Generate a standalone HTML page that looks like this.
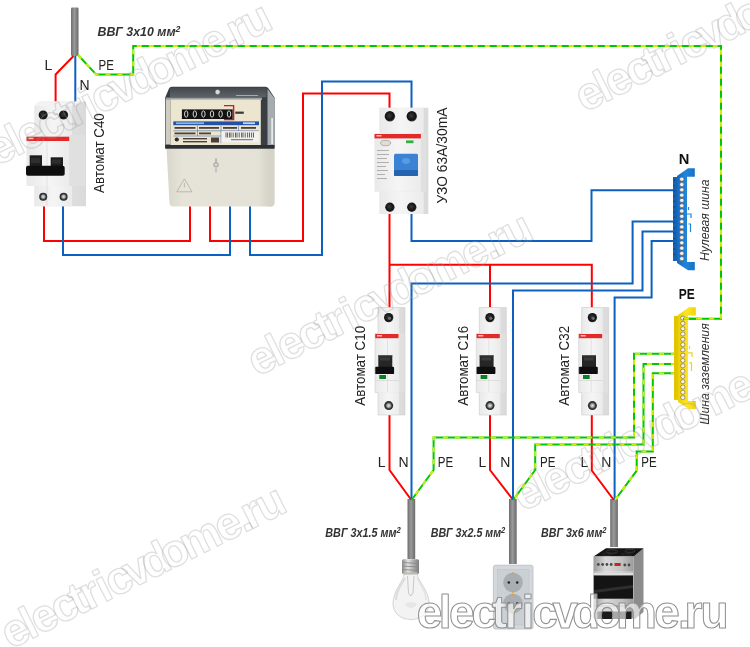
<!DOCTYPE html>
<html><head><meta charset="utf-8">
<style>
html,body{margin:0;padding:0;background:#fff;}
body{width:750px;height:647px;overflow:hidden;}
svg{display:block;font-family:"Liberation Sans",sans-serif;will-change:transform;}
</style></head>
<body>
<svg width="750" height="647" viewBox="0 0 750 647">
<defs>
<linearGradient id="cab" x1="0" x2="1" y1="0" y2="0"><stop offset="0" stop-color="#6d6d6d"/><stop offset="0.45" stop-color="#9a9a9a"/><stop offset="1" stop-color="#6a6a6a"/></linearGradient>
</defs>
<rect width="750" height="647" fill="#fff"/>


<!-- CABLES -->
<g fill="url(#cab)">
<rect x="71" y="7.5" width="7.5" height="48.5" rx="1.2"/>
<rect x="407.5" y="499" width="7.7" height="60"/>
<rect x="509" y="499" width="7.7" height="65"/>
<rect x="610.2" y="499" width="7.7" height="48"/>
</g>

<!-- WIRES -->
<g fill="none" stroke-width="2" stroke-linejoin="miter">
<g stroke="#ff0000">
<path d="M73.5,56 L55.6,74.5 V102"/>
<path d="M44,204 V241 H190 V206"/>
<path d="M210,206 V241 H303 V93.5 H389.5 V109"/>
<path d="M389.5,214 V308 M389.5,264.8 H591.8 V308 M490,264.8 V308"/>
<path d="M389.5,414 V470 L411,499.5"/>
<path d="M490,414 V470 L512.8,499.5"/>
<path d="M591.8,414 V470.5 L613.8,500"/>
</g>
<g stroke="#0b60c0">
<path d="M75.3,56 V102"/>
<path d="M63,206 V255 H230 V206"/>
<path d="M250,206 V255 H322 V81.5 H411.5 V109"/>
<path d="M411.5,214 V241 H591.5 V190.2 H675"/>
<path d="M675,221.6 H632.6 V283.4 H411.5 V500"/>
<path d="M675,231.5 H642.5 V290.5 H513 V500"/>
<path d="M675,241 H651.6 V297.6 H614.6 V500"/>
</g>
<g id="pe">
<g stroke="#00c800">
<path id="pe1" d="M78,55 L96.3,74.6 H133.2 V45.9 H721 V318.8 H684"/>
<path id="pe2" d="M676,353.7 H634 V437.6 H433.6 V470 L411.5,500"/>
<path id="pe3" d="M676,364 H643.5 V444.5 H535.2 V470 L513.2,500"/>
<path id="pe4" d="M676,373.2 H652.8 V451.5 H636.7 V470.7 L615,500"/>
</g>
<g stroke="#c8f000" stroke-dasharray="5 7">
<use href="#pe1"/><use href="#pe2"/><use href="#pe3"/><use href="#pe4"/>
</g>
</g>
</g>

<!-- LABELS -->
<g font-size="14" fill="#222">
<text x="44.5" y="69.6">L</text>
<text x="79.5" y="89.9">N</text>
<text x="98.5" y="69.6" textLength="15.4" lengthAdjust="spacingAndGlyphs">PE</text>
<text x="377.8" y="466.7">L</text>
<text x="398.5" y="466.7">N</text>
<text x="437.8" y="466.7" textLength="15.4" lengthAdjust="spacingAndGlyphs">PE</text>
<text x="478.6" y="466.7">L</text>
<text x="500.3" y="466.7">N</text>
<text x="540" y="466.7" textLength="15.4" lengthAdjust="spacingAndGlyphs">PE</text>
<text x="580.4" y="466.7">L</text>
<text x="601.2" y="466.7">N</text>
<text x="641.2" y="466.7" textLength="15.4" lengthAdjust="spacingAndGlyphs">PE</text>
</g>
<g font-size="14.5" fill="#222">
<text transform="translate(103.8,192.9) rotate(-90)" textLength="79.7" lengthAdjust="spacingAndGlyphs">Автомат С40</text>
<text transform="translate(365.2,405.7) rotate(-90)" textLength="79.8" lengthAdjust="spacingAndGlyphs">Автомат С10</text>
<text transform="translate(468.4,405.7) rotate(-90)" textLength="79.8" lengthAdjust="spacingAndGlyphs">Автомат С16</text>
<text transform="translate(569.4,405.7) rotate(-90)" textLength="79.8" lengthAdjust="spacingAndGlyphs">Автомат С32</text>
<text transform="translate(446.8,203.5) rotate(-90)" textLength="96" lengthAdjust="spacingAndGlyphs">УЗО 63А/30mA</text>
</g>
<g font-size="12" font-weight="bold" font-style="italic" fill="#333">
<text x="97.5" y="35.5" textLength="82.9" lengthAdjust="spacingAndGlyphs">ВВГ 3х10 мм<tspan font-size="8.5" dy="-4">2</tspan></text>
<text x="325.3" y="537.3" textLength="75.5" lengthAdjust="spacingAndGlyphs">ВВГ 3х1.5 мм<tspan font-size="8.5" dy="-4">2</tspan></text>
<text x="430.7" y="536.8" textLength="74.6" lengthAdjust="spacingAndGlyphs">ВВГ 3х2.5 мм<tspan font-size="8.5" dy="-4">2</tspan></text>
<text x="541.1" y="536.8" textLength="65.4" lengthAdjust="spacingAndGlyphs">ВВГ 3х6 мм<tspan font-size="8.5" dy="-4">2</tspan></text>
</g>
<g font-size="15.5" font-weight="bold" fill="#111">
<text x="678.8" y="163.5" textLength="10.6" lengthAdjust="spacingAndGlyphs">N</text>
<text x="678.8" y="299" textLength="16" lengthAdjust="spacingAndGlyphs">PE</text>
</g>
<g font-size="12.5" font-style="italic" fill="#333">
<text transform="translate(708.6,261) rotate(-90)" textLength="81.6" lengthAdjust="spacingAndGlyphs">Нулевая шина</text>
<text transform="translate(708.6,424.7) rotate(-90)" textLength="101.4" lengthAdjust="spacingAndGlyphs">Шина заземления</text>
</g>

<!-- DEVICES -->
<g id="devices">
<defs>
<linearGradient id="bkside" x1="0" x2="1"><stop offset="0" stop-color="#e8e8e8"/><stop offset="1" stop-color="#dadada"/></linearGradient>
<linearGradient id="bkfront" x1="0" x2="1"><stop offset="0" stop-color="#e9e9e9"/><stop offset="0.5" stop-color="#f5f5f5"/><stop offset="1" stop-color="#ebebeb"/></linearGradient>
<radialGradient id="hole" cx="0.45" cy="0.45" r="0.6"><stop offset="0" stop-color="#3a3a3a"/><stop offset="0.7" stop-color="#111"/><stop offset="1" stop-color="#555"/></radialGradient>
<radialGradient id="screw" cx="0.5" cy="0.5" r="0.55"><stop offset="0" stop-color="#e2e6e6"/><stop offset="0.35" stop-color="#a4aaaa"/><stop offset="0.62" stop-color="#3a3e3e"/><stop offset="1" stop-color="#1c1c1c"/></radialGradient>
<linearGradient id="metal" x1="0" x2="1"><stop offset="0" stop-color="#8a8a8a"/><stop offset="0.35" stop-color="#e2e2e2"/><stop offset="0.6" stop-color="#b8b8b8"/><stop offset="1" stop-color="#7c7c7c"/></linearGradient>
<linearGradient id="steel" x1="0" x2="1"><stop offset="0" stop-color="#9a9a9a"/><stop offset="0.3" stop-color="#d8d8d8"/><stop offset="0.7" stop-color="#c2c2c2"/><stop offset="1" stop-color="#9c9c9c"/></linearGradient>
<linearGradient id="mstrip" x1="0" x2="0" y1="0" y2="1"><stop offset="0" stop-color="#44484c"/><stop offset="1" stop-color="#5e6368"/></linearGradient>
<linearGradient id="mcover" x1="0" x2="1"><stop offset="0" stop-color="#d9d7cb"/><stop offset="0.15" stop-color="#e6e4d9"/><stop offset="0.85" stop-color="#e4e2d7"/><stop offset="1" stop-color="#cfcdc1"/></linearGradient>
<linearGradient id="nbus" x1="0" x2="1"><stop offset="0" stop-color="#1769c0"/><stop offset="0.5" stop-color="#1f86dc"/><stop offset="1" stop-color="#1670c8"/></linearGradient>
<linearGradient id="pbus" x1="0" x2="1"><stop offset="0" stop-color="#ecd000"/><stop offset="0.5" stop-color="#fde428"/><stop offset="1" stop-color="#f2d400"/></linearGradient>
<g id="bk1">
 <rect x="378" y="307.5" width="27" height="107.5" fill="url(#bkside)"/>
 <rect x="378" y="307.5" width="21" height="26" fill="url(#bkfront)"/>
 <rect x="375" y="333.5" width="24.5" height="59" fill="url(#bkfront)"/>
 <rect x="399.5" y="333.5" width="5.5" height="59" fill="#e0e0e0"/>
 <rect x="378" y="392.5" width="21" height="22.5" fill="url(#bkfront)"/>
 <rect x="375" y="334" width="23.5" height="4.2" fill="#e22a28"/>
 <rect x="377" y="335" width="5" height="1.5" fill="#f6c0c0"/>
 <line x1="387.5" y1="339" x2="387.5" y2="392" stroke="#d4d4d4" stroke-width="0.6"/>
 <line x1="375" y1="380.5" x2="399" y2="380.5" stroke="#d0d0d0" stroke-width="0.6"/>
 <rect x="378.3" y="355.2" width="14" height="12.5" fill="#262626"/>
 <rect x="378.3" y="355.2" width="14" height="1" fill="#6a5546"/>
 <rect x="380" y="357.5" width="10" height="3" fill="#3a3a3a"/>
 <rect x="374.9" y="366.8" width="19.2" height="7.3" rx="1.2" fill="#0e0e0e"/>
 <rect x="379.3" y="375" width="6.7" height="4" fill="#0b7f22"/>
 <circle cx="388.7" cy="317.6" r="4.7" fill="url(#hole)"/>
 <circle cx="389.5" cy="318.3" r="1.6" fill="#6a6a6a"/>
 <circle cx="388.7" cy="405.6" r="4.5" fill="url(#screw)"/>
 <path d="M378,307.5 H405 V415 H378 V392.5 H375 V333.5 H378 Z" fill="none" stroke="#cfcfcf" stroke-width="0.6"/>
</g>
</defs>
<!-- single pole breakers -->
<use href="#bk1"/>
<use href="#bk1" x="101.3"/>
<use href="#bk1" x="203.7"/>

<!-- double pole C40 -->
<g>
 <path d="M34.5,106 L39,101.5 H86 V206.3 H34.5 Z" fill="url(#bkside)"/>
 <rect x="34.5" y="106" width="37.5" height="29" fill="url(#bkfront)"/>
 <path d="M34.5,106 L39,101.5 H86 L72,106 Z" fill="#f3f3f3"/>
 <rect x="26.5" y="135" width="43" height="51" fill="url(#bkfront)"/>
 <rect x="69.5" y="135" width="15.5" height="51" fill="#e0e0e0"/>
 <rect x="34.5" y="186" width="37.5" height="20.3" fill="url(#bkfront)"/>
 <rect x="26.5" y="136.7" width="42.7" height="4.3" fill="#e22a28"/>
 <rect x="28.5" y="137.7" width="5" height="1.5" fill="#f6c0c0"/>
 <line x1="47" y1="141" x2="47" y2="206" stroke="#d4d4d4" stroke-width="0.6"/>
 <rect x="29.7" y="155.3" width="12.3" height="11" fill="#1e1e1e"/>
 <rect x="50.7" y="157.3" width="12.3" height="9" fill="#1e1e1e"/>
 <rect x="31" y="158" width="9" height="5" fill="#2e2e2e"/>
 <rect x="52" y="159.5" width="9" height="4" fill="#2e2e2e"/>
 <rect x="26" y="165.7" width="38.7" height="10" rx="2" fill="#0e0e0e"/>
 <circle cx="43.2" cy="115" r="4.6" fill="url(#hole)"/>
 <circle cx="63.6" cy="115" r="4.6" fill="url(#hole)"/>
 <circle cx="43.2" cy="196.7" r="4" fill="url(#screw)"/>
 <circle cx="63.6" cy="196.7" r="4" fill="url(#screw)"/>
</g>

<!-- UZO -->
<g>
 <rect x="379.5" y="107.8" width="48.8" height="106.2" fill="url(#bkside)"/>
 <rect x="379.5" y="107.8" width="44.2" height="25.6" fill="url(#bkfront)"/>
 <rect x="374.5" y="133.4" width="46.5" height="58.4" fill="url(#bkfront)"/>
 <rect x="421" y="133.4" width="5.5" height="58.4" fill="#e0e0e0"/>
 <rect x="379.5" y="191.8" width="44.2" height="22.2" fill="url(#bkfront)"/>
 <rect x="374.5" y="134" width="46.4" height="4.4" fill="#e22a28"/>
 <rect x="376.5" y="135" width="5" height="1.5" fill="#f6c0c0"/>
 <ellipse cx="385.6" cy="143" rx="5" ry="2.7" fill="#e4ddd0" stroke="#8a8a8a" stroke-width="0.6"/>
 <rect x="406" y="140.4" width="7.5" height="2.8" fill="#2fb04a"/>
 <g fill="#b0b0b0"><rect x="377" y="150" width="12" height="1"/><rect x="377" y="154" width="12" height="1"/><rect x="377" y="158" width="10" height="1"/><rect x="377" y="162" width="12" height="1"/><rect x="377" y="166" width="9" height="1"/><rect x="377" y="170" width="11" height="1"/><rect x="377" y="174" width="8" height="1"/><rect x="377" y="178" width="10" height="1"/></g>
 <rect x="394" y="153.8" width="24" height="22.2" rx="1.5" fill="#3a82d4"/>
 <rect x="394" y="170" width="24" height="6" rx="1" fill="#2563b0"/>
 <ellipse cx="406" cy="161" rx="4" ry="3" fill="#5a9ae0"/>
 <circle cx="389.9" cy="116.3" r="5.2" fill="url(#hole)"/>
 <circle cx="411.8" cy="116.3" r="5.2" fill="url(#hole)"/>
 <circle cx="389.9" cy="207.2" r="4.7" fill="url(#hole)"/>
 <circle cx="411.8" cy="207.2" r="4.7" fill="url(#hole)"/>
</g>

<!-- METER -->
<g>
 <path d="M166.4,146 H274.4 V202.5 Q274.4,206.6 270.5,206.6 H173.5 Q169.8,206.6 169.5,203 Z" fill="url(#mcover)"/>
 <path d="M268.5,150 H274.4 V202.5 Q274.4,206.6 270.5,206.6 H268.5 Z" fill="#d6d4c9"/>
 <path d="M165.2,97.5 L169,88.5 Q169.8,86.7 172,86.7 H265.5 Q267.5,86.7 268.5,88.5 L274.5,97.5 V148.5 H165.2 Z" fill="#3a3e42"/>
 <rect x="170" y="87.6" width="96.5" height="9.6" fill="url(#mstrip)"/>
 <rect x="236" y="95" width="22" height="1" fill="#a4a9ad"/>
 <path d="M267.5,89 L274.3,98 V148 H267.5 Z" fill="#a7acb0"/>
 <rect x="271.3" y="118" width="1.6" height="26" fill="#eef0f2"/>
 <rect x="165.8" y="99" width="4.6" height="45.5" fill="#cdcdc4"/>
 <rect x="166" y="97.6" width="96" height="2.4" fill="#9ea3a6"/>
 <rect x="170.4" y="99.6" width="90.4" height="45.6" fill="#ece5cf"/>
 <rect x="181.9" y="109.4" width="50.8" height="9.6" fill="#121212"/>
 <g fill="none" stroke="#e6e6e6" stroke-width="0.9"><ellipse cx="186.2" cy="114" rx="1.7" ry="3.2"/><ellipse cx="194.8" cy="114" rx="1.7" ry="3.2"/><ellipse cx="203.4" cy="114" rx="1.7" ry="3.2"/><ellipse cx="212" cy="114" rx="1.7" ry="3.2"/><ellipse cx="220.6" cy="114" rx="1.7" ry="3.2"/><ellipse cx="229" cy="114" rx="1.7" ry="3.2"/></g>
 <path d="M224,105.6 H233.6 V119.6 H224" fill="none" stroke="#d41a1a" stroke-width="1.4"/>
 <rect x="235.3" y="111.6" width="8.5" height="2.2" fill="#3a3a3a"/>
 <rect x="173.3" y="121.4" width="85.7" height="3.8" fill="#2152a8"/>
 <rect x="176" y="122.3" width="28" height="1.8" fill="#8fb0e0"/>
 <rect x="243" y="122.3" width="12" height="1.8" fill="#c8d8f0"/>
 <g stroke="#4a6cb0" stroke-width="0.6" fill="none"><path d="M173.3,130.8 H259 M197.5,125.5 V136 M221,125.5 V143 M238.5,125.5 V130.8 M173.3,136 H221"/></g>
 <g fill="#4a4038"><rect x="174.5" y="127" width="21" height="1.8"/><rect x="199" y="127" width="20" height="1.8"/><rect x="223" y="127" width="14" height="1.8"/><rect x="241" y="127" width="15" height="1.8"/><rect x="174.5" y="132.5" width="21" height="1.8"/><rect x="199" y="132.5" width="12" height="1.8"/><rect x="183" y="138" width="24" height="1.4"/><rect x="183" y="141" width="24" height="1.4"/><rect x="211" y="137.5" width="8" height="5"/></g>
 <circle cx="176.8" cy="139.5" r="2.1" fill="#2a2a2a"/>
 <rect x="221.5" y="131.3" width="37.5" height="11.2" fill="#f2f1ec"/>
 <g stroke="#222" stroke-width="0.7"><path d="M226,132.5 V137.5 M227.6,132.5 V137.5 M229.6,132.5 V137.5 M231,132.5 V137.5 M233.2,132.5 V137.5 M235.5,132.5 V137.5 M237,132.5 V137.5 M239.2,132.5 V137.5 M241.6,132.5 V137.5 M243,132.5 V137.5 M245.2,132.5 V137.5 M247.6,132.5 V137.5 M249.5,132.5 V137.5 M251.6,132.5 V137.5 M253.5,132.5 V137.5"/></g>
 <rect x="231" y="139.2" width="22" height="1" fill="#666"/>
 <rect x="165.2" y="145" width="109.3" height="3.5" fill="#2c3034"/>
 <circle cx="217.6" cy="92" r="2.6" fill="#d8dcdc" stroke="#4a4a4a" stroke-width="0.6"/>
 <circle cx="216" cy="164.8" r="2.3" fill="#d0d4d4" stroke="#666" stroke-width="0.5"/>
 <rect x="215" y="158.5" width="2" height="3.5" fill="#b8b6aa"/><rect x="215" y="168" width="2" height="4.5" fill="#c8c6ba"/>
 <path d="M184.4,178.8 L192,191.8 H176.8 Z" fill="none" stroke="#a9a79d" stroke-width="0.7"/>
 <path d="M184.4,183 V187.5" stroke="#a9a79d" stroke-width="0.7"/>
</g>

<!-- N BUS -->
<g>
 <rect x="673" y="177" width="5" height="84" fill="#1563b4"/>
 <g fill="#0d4f99"><rect x="673" y="179.5" width="2.4" height="1.4"/><rect x="673" y="184.8" width="2.4" height="1.4"/><rect x="673" y="190.1" width="2.4" height="1.4"/><rect x="673" y="195.4" width="2.4" height="1.4"/><rect x="673" y="200.7" width="2.4" height="1.4"/><rect x="673" y="206" width="2.4" height="1.4"/><rect x="673" y="211.3" width="2.4" height="1.4"/><rect x="673" y="216.6" width="2.4" height="1.4"/><rect x="673" y="221.9" width="2.4" height="1.4"/><rect x="673" y="227.2" width="2.4" height="1.4"/><rect x="673" y="232.5" width="2.4" height="1.4"/><rect x="673" y="237.8" width="2.4" height="1.4"/><rect x="673" y="243.1" width="2.4" height="1.4"/><rect x="673" y="248.4" width="2.4" height="1.4"/><rect x="673" y="253.7" width="2.4" height="1.4"/></g>
 <path d="M677,176 L688,168.3 H694.8 V176.7 H687 V262 H694.8 V270.2 H688 L677,263 Z" fill="url(#nbus)"/>
 <g id="holes" fill="#f5f2ec" stroke="#6a5a4c" stroke-width="0.6"><rect x="679.7" y="177.3" width="4.2" height="3.8" rx="1.6"/><rect x="679.7" y="182.6" width="4.2" height="3.8" rx="1.6"/><rect x="679.7" y="187.9" width="4.2" height="3.8" rx="1.6"/><rect x="679.7" y="193.2" width="4.2" height="3.8" rx="1.6"/><rect x="679.7" y="198.5" width="4.2" height="3.8" rx="1.6"/><rect x="679.7" y="203.8" width="4.2" height="3.8" rx="1.6"/><rect x="679.7" y="209.1" width="4.2" height="3.8" rx="1.6"/><rect x="679.7" y="214.4" width="4.2" height="3.8" rx="1.6"/><rect x="679.7" y="219.7" width="4.2" height="3.8" rx="1.6"/><rect x="679.7" y="225.0" width="4.2" height="3.8" rx="1.6"/><rect x="679.7" y="230.3" width="4.2" height="3.8" rx="1.6"/><rect x="679.7" y="235.6" width="4.2" height="3.8" rx="1.6"/><rect x="679.7" y="240.9" width="4.2" height="3.8" rx="1.6"/><rect x="679.7" y="246.2" width="4.2" height="3.8" rx="1.6"/><rect x="679.7" y="251.5" width="4.2" height="3.8" rx="1.6"/><rect x="679.7" y="256.8" width="4.2" height="3.8" rx="1.6"/></g>
 <path d="M688.5,207 V210 M687,214 H691 V218 M688.5,224 H690.5 V232" fill="none" stroke="#1f86dc" stroke-width="1.2"/>
</g>

<!-- PE BUS -->
<g transform="translate(1,138.9)">
 <rect x="673" y="177" width="5" height="84" fill="#e2c400"/>
 <path d="M677,176 L688,168.3 H694.8 V176.7 H687 V262 H694.8 V270.2 H688 L677,263 Z" fill="url(#pbus)"/>
 <use href="#holes"/>
 <path d="M688.5,207 V210 M687,214 H691 V218 M688.5,224 H690.5 V232" fill="none" stroke="#f0d020" stroke-width="1.2"/>
</g>

<!-- LAMP -->
<g>
 <path d="M404,574 C404,581 393,590 393,603.5 C393,613.5 401,619.5 411,619.5 C421,619.5 429,613.5 429,603.5 C429,590 417.5,581 417.5,574 Z" fill="#f3f3f3" stroke="#cfcfcf" stroke-width="0.9"/>
 <path d="M396,600 C396,590 402,584 405,578" fill="none" stroke="#dcdcdc" stroke-width="2"/>
 <path d="M426,600 C426,590 420,584 417,578" fill="none" stroke="#e2e2e2" stroke-width="1.5"/>
 <path d="M407.5,576 L408.5,593 L410.8,596 L413,593 L414,576" fill="none" stroke="#bdbdbd" stroke-width="0.8"/>
 <path d="M405,604 Q411,600 417,604 Q411,612 405,604 Z" fill="#e6e6e6"/>
 <rect x="402" y="559.3" width="17" height="14.8" rx="1.5" fill="url(#metal)"/>
 <g stroke="#8a8a8a" stroke-width="0.9"><line x1="402.5" y1="562.5" x2="418.5" y2="563.5"/><line x1="402.5" y1="566" x2="418.5" y2="567"/><line x1="402.5" y1="569.5" x2="418.5" y2="570.5"/></g>
 <rect x="403.5" y="572.5" width="14" height="2" fill="#b8c0b0"/>
</g>

<!-- SOCKET -->
<g>
 <rect x="493.4" y="565.2" width="39.6" height="63.8" rx="2" fill="#d4d8dc" stroke="#b8bcc2" stroke-width="0.8"/>
 <rect x="497.5" y="569.5" width="31.5" height="55.5" fill="#cbd0d5" stroke="#bfc4ca" stroke-width="0.6"/>
 <circle cx="513" cy="582.5" r="9.8" fill="#a9aeb3"/>
 <circle cx="513" cy="603.5" r="9.8" fill="#a9aeb3"/>
 <g fill="#222"><circle cx="508.8" cy="582.5" r="1.3"/><circle cx="517.2" cy="582.5" r="1.3"/><circle cx="508.8" cy="603.5" r="1.3"/><circle cx="517.2" cy="603.5" r="1.3"/></g>
 <g fill="#e0a030"><rect x="512" y="572.5" width="2" height="1.6"/><rect x="512" y="591" width="2" height="1.6"/><rect x="512" y="593.8" width="2" height="1.6"/><rect x="512" y="612" width="2" height="1.6"/></g>
</g>

<!-- STOVE -->
<g>
 <path d="M633.7,556.4 L643.5,548.2 V612 L633.7,620 Z" fill="#8c8c8c"/>
 <path d="M593.5,556.4 L606,548.2 H643.5 L633.7,556.4 Z" fill="#151515"/>
 <ellipse cx="612" cy="551.5" rx="5.5" ry="1.8" fill="none" stroke="#4a4a4a" stroke-width="0.6"/>
 <ellipse cx="630" cy="550.8" rx="5" ry="1.6" fill="none" stroke="#4a4a4a" stroke-width="0.6"/>
 <ellipse cx="607" cy="554.3" rx="4.5" ry="1.3" fill="none" stroke="#3a3a3a" stroke-width="0.5"/>
 <ellipse cx="626" cy="554.5" rx="5" ry="1.3" fill="none" stroke="#3a3a3a" stroke-width="0.5"/>
 <rect x="593.5" y="556.4" width="40.2" height="15" fill="url(#steel)"/>
 <g fill="#4a4a4a"><circle cx="598.3" cy="564.5" r="1.4"/><circle cx="602.6" cy="564.5" r="1.4"/><circle cx="606.9" cy="564.5" r="1.4"/><circle cx="611.2" cy="564.5" r="1.4"/><circle cx="624.8" cy="565" r="1.4"/><circle cx="629" cy="565" r="1.4"/></g>
 <rect x="614.5" y="563" width="6.2" height="3" fill="#c02828"/>
 <rect x="593.5" y="571.4" width="40.2" height="47" fill="url(#steel)"/>
 <rect x="594" y="572.5" width="39" height="3" fill="#dedede"/>
 <rect x="593.8" y="575.5" width="39.2" height="23.2" fill="#141414"/>
 <path d="M594,590 L633,585 V588 L594,593 Z" fill="#2e2e2e"/>
 <rect x="593.5" y="605.5" width="40.2" height="1" fill="#8a8a8a"/>
 <rect x="595.5" y="611.5" width="36" height="7.5" fill="#1c1c1c"/>
</g>

</g>

<!-- PE overlay -->
<g fill="none" stroke-width="2"><path d="M698,318.8 H683" stroke="#00c800"/><path d="M698,318.8 H683" stroke="#c8f000" stroke-dasharray="5 7" stroke-dashoffset="3"/></g>
<!-- WATERMARKS (diagonal) -->
<g id="wm" font-family="Liberation Sans" font-weight="bold" font-size="46" stroke-linejoin="round" fill="none" stroke="#9a9a9a" stroke-opacity="0.32" stroke-width="1.3">
<text transform="translate(10.4,649.5) rotate(-26.5)" x="0.0 22.0 32.1 54.7 74.9 87.6 104.6 115.5 135.7 155.2 176.2 199.2 237.5 261.1 267.7 283.6">electricvdome.ru</text>
<text transform="translate(256.9,376.9) rotate(-26.5)" x="0.0 22.0 32.1 54.7 74.9 87.6 104.6 115.5 135.7 155.2 176.2 199.2 237.5 261.1 267.7 283.6">electricvdome.ru</text>
<text transform="translate(522.4,512) rotate(-26.5)" x="0.0 22.0 32.1 54.7 74.9 87.6 104.6 115.5 135.7 155.2 176.2 199.2 237.5 261.1 267.7 283.6">electricvdome.ru</text>
<text transform="translate(-3.8,166.6) rotate(-26.5)" x="0.0 22.0 32.1 54.7 74.9 87.6 104.6 115.5 135.7 155.2 176.2 199.2 237.5 261.1 267.7 283.6">electricvdome.ru</text>
<text transform="translate(584.6,112.7) rotate(-26.5)" x="0.0 22.0 32.1 54.7 74.9 87.6 104.6 115.5 135.7 155.2 176.2 199.2 237.5 261.1 267.7 283.6">electricvdome.ru</text>
</g>
<!-- BOTTOM WATERMARK -->
<text x="416.8 438.8 448.9 471.5 491.7 504.4 521.4 532.3 552.5 572 593 616 654.3 677.9 684.5 700.4" y="628.2" font-family="Liberation Sans" font-weight="bold" font-size="46" stroke-linejoin="round" fill="#fff" fill-opacity="0.62" stroke="#929292" stroke-width="1.05">electricvdome.ru</text>
</svg>
</body></html>
